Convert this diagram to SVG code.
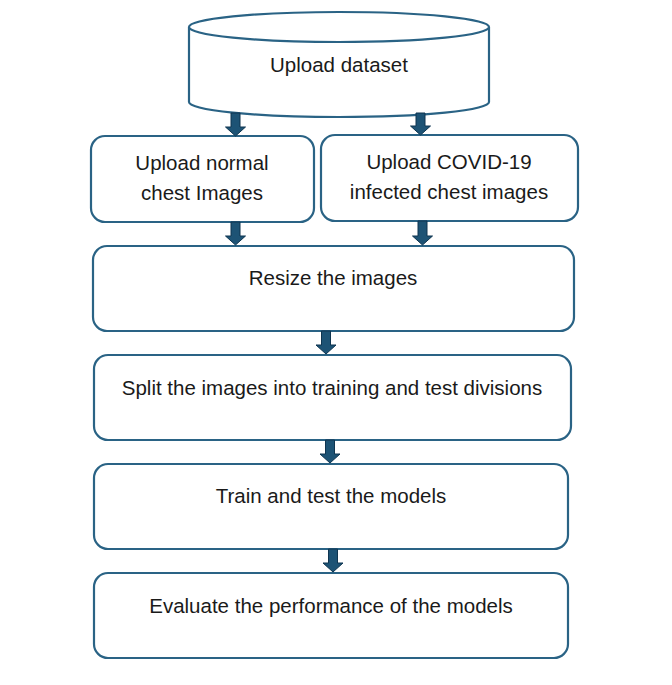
<svg xmlns="http://www.w3.org/2000/svg" width="672" height="685" viewBox="0 0 672 685">
<style>
.box{fill:#fff;stroke:#2a6385;stroke-width:2.2}
.t{font-family:"Liberation Sans",Arial,sans-serif;font-size:20.5px;fill:#1a1a1a;text-anchor:middle}
.ar{fill:#1d5375;stroke:#0f3550;stroke-width:1}
</style>
<rect width="672" height="685" fill="#fff"/>
<g id="dataset">
<path class="box" d="M189,27 V102 A150,15 0 0 0 489,102 V27"/>
<ellipse class="box" cx="339" cy="27" rx="150" ry="15"/>
<text class="t" x="339" y="72">Upload dataset</text>
</g>
<g id="normal">
<rect class="box" x="91" y="136" width="223" height="86" rx="14"/>
<text class="t" x="202" y="170">Upload normal</text>
<text class="t" x="202" y="200">chest Images</text>
</g>
<g id="covid">
<rect class="box" x="321" y="135" width="257" height="86" rx="14"/>
<text class="t" x="449" y="169">Upload COVID-19</text>
<text class="t" x="449" y="199">infected chest images</text>
</g>
<g id="resize">
<rect class="box" x="93" y="246" width="481" height="85" rx="14"/>
<text class="t" x="333" y="285">Resize the images</text>
</g>
<g id="split">
<rect class="box" x="94" y="355" width="477" height="85" rx="14"/>
<text class="t" x="332" y="395">Split the images into training and test divisions</text>
</g>
<g id="train">
<rect class="box" x="94" y="464" width="474" height="85" rx="14"/>
<text class="t" x="331" y="503">Train and test the models</text>
</g>
<g id="evaluate">
<rect class="box" x="94" y="573" width="474" height="85" rx="14"/>
<text class="t" x="331" y="613">Evaluate the performance of the models</text>
</g>
<g id="connectors">
<path class="ar" d="M231,113 h9 v14 h5.5 l-10,9 l-10,-9 h5.5 z"/>
<path class="ar" d="M416,113 h9 v13 h5.5 l-10,9 l-10,-9 h5.5 z"/>
<path class="ar" d="M231,222 h9 v14 h5.5 l-10,9 l-10,-9 h5.5 z"/>
<path class="ar" d="M418,221 h9 v15 h5.5 l-10,9 l-10,-9 h5.5 z"/>
<path class="ar" d="M321.5,331 h9 v14 h5.5 l-10,9 l-10,-9 h5.5 z"/>
<path class="ar" d="M325.5,440 h9 v14 h5.5 l-10,9 l-10,-9 h5.5 z"/>
<path class="ar" d="M328.5,549 h9 v14 h5.5 l-10,9 l-10,-9 h5.5 z"/>
</g>
</svg>
